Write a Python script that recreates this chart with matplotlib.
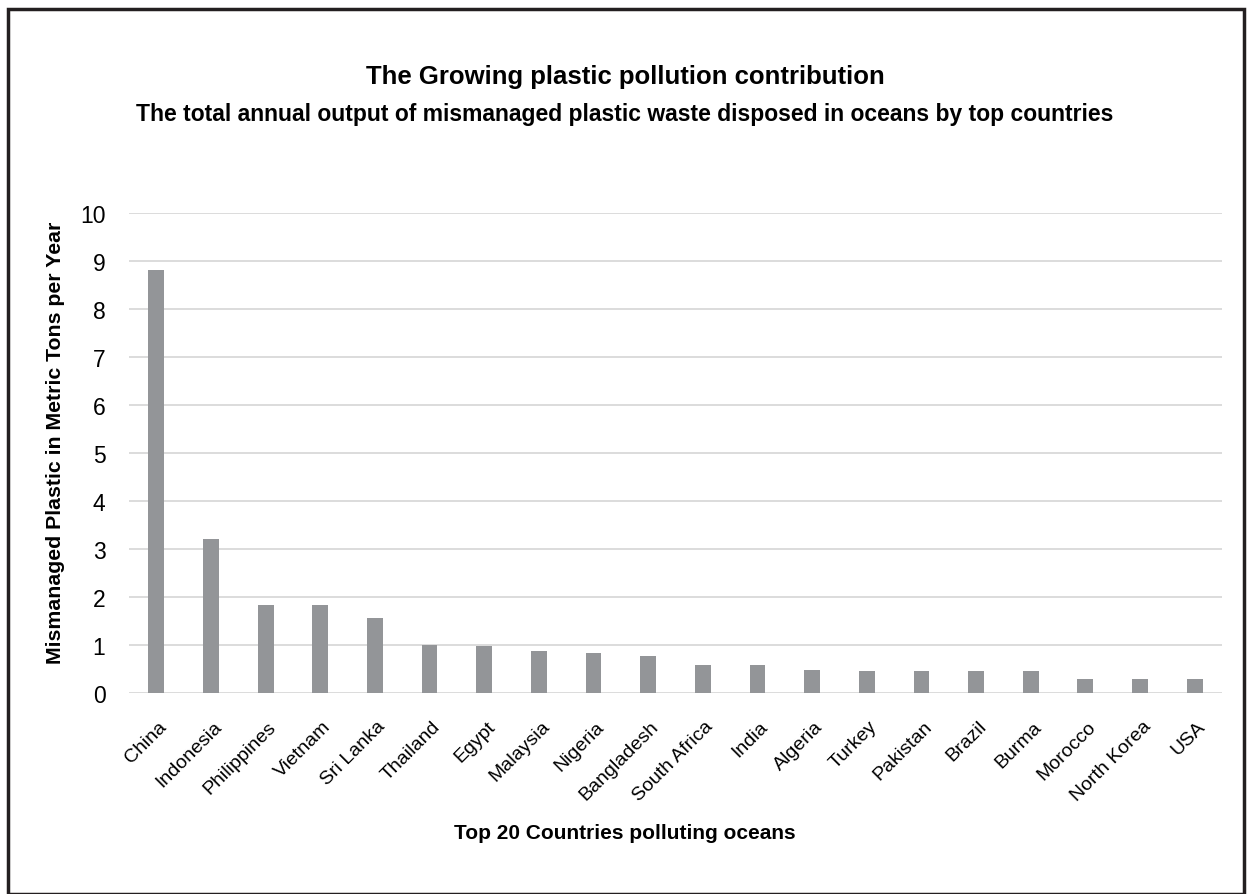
import matplotlib.pyplot as plt
import matplotlib.transforms as mtransforms
from matplotlib.patches import Rectangle

plt.rcParams['font.family'] = ['Liberation Sans', 'DejaVu Sans']

countries = ['China', 'Indonesia', 'Philippines', 'Vietnam', 'Sri Lanka', 'Thailand',
             'Egypt', 'Malaysia', 'Nigeria', 'Bangladesh', 'South Africa', 'India',
             'Algeria', 'Turkey', 'Pakistan', 'Brazil', 'Burma', 'Morocco',
             'North Korea', 'USA']
plastic = [8.82, 3.2, 1.83, 1.83, 1.57, 1.0, 0.97, 0.88, 0.84, 0.78, 0.59, 0.59,
           0.48, 0.46, 0.46, 0.46, 0.46, 0.3, 0.3, 0.29]
y_ticks = list(range(0, 11))

fig = plt.figure(figsize=(12.5, 8.95), dpi=100)
ax = fig.add_axes([129 / 1250, 1 - 694 / 895, 1093 / 1250, 480 / 895])

x = range(len(countries))
ax.bar(x, plastic, width=0.29, color='#939598', zorder=3)
ax.set_xlim(-0.5, len(countries) - 0.5)
ax.set_ylim(0, 10)
ax.set_yticks(y_ticks)
ax.set_xticks(list(x))
ax.set_xticklabels(countries, rotation=45, ha='right', va='center',
                   rotation_mode='anchor', fontsize=14)
ax.tick_params(axis='y', labelsize=16.5, length=0, pad=17)
ax.tick_params(axis='x', length=0, pad=22)
ax.grid(axis='y', color='#d9d9d9', linewidth=1.3, zorder=0)
for s in ax.spines.values():
    s.set_visible(False)

# nudge the slanted country names a little to the right of their bars
shift = mtransforms.ScaledTranslation(8 / 100, 0, fig.dpi_scale_trans)
for lbl in ax.get_xticklabels():
    lbl.set_transform(lbl.get_transform() + shift)

fig.text(0.5, 1 - 77 / 895, 'The Growing plastic pollution contribution',
         ha='center', va='center', fontsize=18.5, fontweight='bold')
fig.text(0.5, 1 - 114 / 895,
         'The total annual output of mismanaged plastic waste disposed in oceans by top countries',
         ha='center', va='center', fontsize=16.5, fontweight='bold')
fig.text(56 / 1250, 1 - 443 / 895, 'Mismanaged Plastic in Metric Tons per Year',
         ha='center', va='center', rotation=90, fontsize=15.3, fontweight='bold')
fig.text(0.5, 1 - 834 / 895, 'Top 20 Countries polluting oceans',
         ha='center', va='center', fontsize=15, fontweight='bold')

# frame round the whole chart
fig.patches.append(Rectangle((8 / 1250, 0), 1236 / 1250, 1 - 10 / 895,
                             transform=fig.transFigure, fill=False,
                             edgecolor='#231f20', linewidth=2.5))

fig.savefig('out.png', dpi=100)
